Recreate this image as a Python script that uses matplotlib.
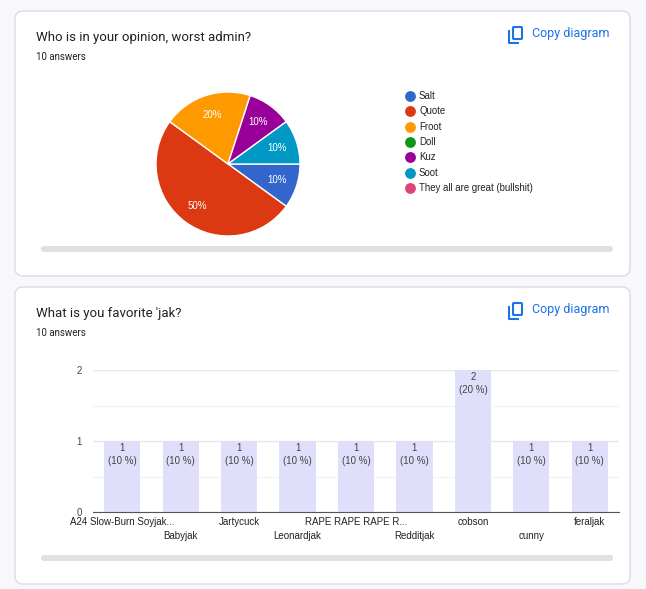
import matplotlib
matplotlib.use("Agg")
import matplotlib.pyplot as plt
from matplotlib.patches import FancyBboxPatch
import numpy as np

# pie data
admins = ["Salt", "Quote", "Froot", "Doll", "Kuz", "Soot", "They all are great (bullshit)"]
admin_votes = [1, 5, 2, 0, 1, 1, 0]
admin_colors = ["#3366cc", "#dc3912", "#ff9900", "#109618", "#990099", "#0099c6", "#dd4477"]

# bar data
jaks = ["A24 Slow-Burn Soyjak...", "Babyjak", "Jartycuck", "Leonardjak",
        "RAPE RAPE RAPE R...", "Redditjak", "cobson", "cunny", "feraljak"]
jak_votes = [1, 1, 1, 1, 1, 1, 2, 1, 1]
total_answers = 10

W, H = 646, 589
fig = plt.figure(figsize=(W / 100, H / 100), dpi=100)
fig.patch.set_facecolor("#f8f8fc")

# background layer in pixel coords
bg = fig.add_axes([0, 0, 1, 1])
bg.set_xlim(0, W)
bg.set_ylim(H, 0)
bg.axis("off")
bg.set_facecolor("none")

title_font = ["Roboto", "DejaVu Sans"]
chart_font = ["Liberation Sans", "DejaVu Sans"]


def card(top, bottom, title):
    bg.add_patch(FancyBboxPatch((15, top), 615, bottom - top,
                                boxstyle="round,pad=0,rounding_size=8",
                                fc="white", ec="#dadce0", lw=1))
    bg.text(36, top + 26, title, fontsize=9.5, family=title_font,
            color="#202124", va="center", ha="left")
    bg.text(36, top + 46, "10 answers", fontsize=7, family=title_font,
            color="#202124", va="center", ha="left")
    # copy icon
    ix, iy = 509, top + 16
    bg.add_patch(FancyBboxPatch((ix + 4, iy), 9, 12, boxstyle="round,pad=0,rounding_size=1",
                                fc="none", ec="#1a73e8", lw=1.5))
    bg.plot([ix, ix, ix + 10], [iy + 3, iy + 16, iy + 16], color="#1a73e8", lw=1.5,
            solid_capstyle="butt")
    bg.text(532, top + 23, "Copy diagram", fontsize=9, family=title_font,
            color="#1a73e8", va="center", ha="left")


def scrollbar(y):
    bg.add_patch(FancyBboxPatch((41, y), 572, 6, boxstyle="round,pad=0,rounding_size=3",
                                fc="#e0e0e0", ec="none"))


card(11, 276, "Who is in your opinion, worst admin?")
card(287, 584, "What is you favorite 'jak?")
scrollbar(246)
scrollbar(555)

# pie chart
cx, cy, r = 228, 164, 72
pax = fig.add_axes([(cx - r) / W, 1 - (cy + r) / H, 2 * r / W, 2 * r / H])
vals = [v for v in admin_votes if v > 0]
cols = [c for v, c in zip(admin_votes, admin_colors) if v > 0]
pax.pie(vals, colors=cols, startangle=0, counterclock=False, radius=1,
        autopct=lambda p: f"{p:.0f}%", pctdistance=0.72,
        wedgeprops=dict(edgecolor="white", linewidth=1),
        textprops=dict(color="white", fontsize=7, family=chart_font))
pax.set_xlim(-1, 1)
pax.set_ylim(-1, 1)

# legend
for i, (name, col) in enumerate(zip(admins, admin_colors)):
    y = 96 + 15.3 * i
    bg.plot(410, y, "o", ms=7.8, color=col, mec="none")
    bg.text(419, y, name, fontsize=6.9, family=chart_font, color="#222222",
            va="center", ha="left")

# bar chart
left, right, base, top = 93, 619, 512, 370
bax = fig.add_axes([left / W, 1 - base / H, (right - left) / W, (base - top) / H])
x = np.arange(len(jaks))
bax.bar(x, jak_votes, width=0.62, color="#e0dffb", zorder=2)
bax.set_xlim(-0.5, len(jaks) - 0.5)
bax.set_ylim(0, 2)
bax.set_yticks([0, 1, 2])
bax.set_yticks([0.5, 1.5], minor=True)
bax.grid(axis="y", which="major", color="#e8e8e8", lw=1, zorder=0)
bax.grid(axis="y", which="minor", color="#f4f4f4", lw=1, zorder=0)
for s in ["top", "right", "left"]:
    bax.spines[s].set_visible(False)
bax.spines["bottom"].set_color("#555555")
bax.spines["bottom"].set_zorder(3)
bax.tick_params(axis="both", which="both", length=0, labelsize=7)
bax.tick_params(axis="y", pad=8, labelcolor="#444444")
for lab in bax.get_yticklabels():
    lab.set_family(chart_font)
bax.set_xticks(x)
bax.set_xticklabels([])
for i, name in enumerate(jaks):
    off = 10 if i % 2 == 0 else 24
    bax.annotate(name, (i, 0), xytext=(0, -off), textcoords="offset pixels",
                 ha="center", va="center", fontsize=7, family=chart_font, color="#222222")
for i, v in enumerate(jak_votes):
    bax.annotate(f"{v}\n({v / total_answers * 100:.0f} %)", (i, v), xytext=(0, -2),
                 textcoords="offset pixels", ha="center", va="top", fontsize=7,
                 family=chart_font, color="#444444", linespacing=1.4, zorder=4)

fig.savefig("out.png", dpi=100, facecolor=fig.get_facecolor())
